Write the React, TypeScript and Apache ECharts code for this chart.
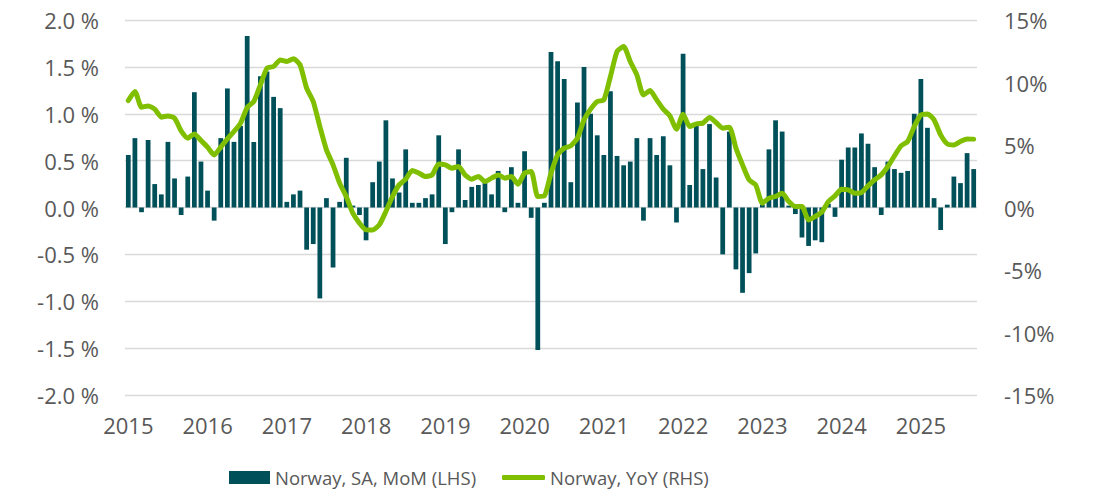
import React, { useEffect, useRef } from "react";
import * as echarts from "echarts";

const years = ["2015","2016","2017","2018","2019","2020","2021","2022","2023","2024","2025"];
const monthCodes = ["01","02","03","04","05","06","07","08","09","10","11","12"];
const lastMonthCount = 9; // 2025 up to September

const momValues = [
  0.56, 0.74, -0.05, 0.72, 0.25, 0.14, 0.70, 0.31, -0.08, 0.33, 1.23, 0.49,
  0.18, -0.14, 0.74, 1.27, 0.70, 0.87, 1.83, 0.70, 1.40, 1.45, 1.18, 1.06,
  0.06, 0.14, 0.18, -0.45, -0.39, -0.97, 0.10, -0.64, 0.06, 0.53, 0.02, -0.08,
  -0.35, 0.27, 0.49, 0.93, 0.31, 0.16, 0.62, 0.05, 0.05, 0.10, 0.14, 0.77,
  -0.39, -0.05, 0.62, 0.08, 0.22, 0.24, 0.26, 0.14, 0.39, -0.05, 0.43, 0.05,
  0.60, -0.11, -1.52, 0.05, 1.66, 1.56, 1.37, 0.27, 1.12, 1.50, 1.00, 0.77,
  0.56, 1.24, 0.55, 0.45, 0.49, 0.74, -0.14, 0.74, 0.56, 0.76, 0.45, -0.16,
  1.64, 0.24, 0.87, 0.41, 0.89, 0.32, -0.50, 0.81, -0.66, -0.91, -0.70, -0.49,
  0.03, 0.62, 0.93, 0.81, 0.02, -0.07, -0.32, -0.41, -0.35, -0.37, 0.04, -0.10,
  0.51, 0.64, 0.64, 0.79, 0.68, 0.43, -0.08, 0.49, 0.41, 0.37, 0.39, 1.00,
  1.37, 0.85, 0.10, -0.24, 0.03, 0.33, 0.26, 0.58, 0.41,
];

const yoyValues = [
  8.56, 9.28, 8.03, 8.13, 7.87, 7.23, 7.33, 7.15, 6.13, 5.55, 5.89, 5.36,
  4.83, 4.21, 4.83, 5.49, 6.08, 6.75, 8.0, 8.48, 9.81, 11.15, 11.28, 11.81,
  11.68, 11.9, 11.41, 9.55, 8.48, 6.48, 4.61, 3.41, 1.95, 0.88, -0.45, -1.25,
  -1.79, -1.8, -1.39, -0.32, 0.88, 1.81, 2.27, 2.96, 2.75, 2.48, 2.61, 3.49,
  3.41, 3.15, 3.28, 2.6, 2.27, 2.48, 2.08, 2.35, 2.61, 2.35, 2.48, 1.87,
  2.75, 2.88, 0.88, 0.93, 2.75, 4.21, 4.75, 4.93, 5.55, 7.01, 7.87, 8.48,
  8.61, 10.48, 12.48, 12.88, 11.68, 10.61, 9.0, 9.36, 8.61, 7.87, 7.33, 6.27,
  7.47, 6.48, 6.69, 6.75, 7.2, 6.8, 6.35, 6.43, 4.75, 3.41, 2.21, 1.81,
  0.35, 0.75, 0.88, 1.15, 0.48, 0.08, 0.08, -0.99, -0.72, -0.37, 0.48, 0.93,
  1.47, 1.41, 1.15, 1.2, 1.73, 2.21, 2.61, 3.28, 4.13, 4.93, 5.28, 6.48,
  7.41, 7.49, 7.01, 5.81, 5.09, 5.01, 5.28, 5.49, 5.47,
];

const leftTicks = { min: -2, max: 2, interval: 0.5 };
const rightTicks = { min: -15, max: 15, interval: 5 };
const barName = "Norway, SA, MoM (LHS)";
const lineName = "Norway, YoY (RHS)";

const categories: string[] = [];
years.forEach((y, i) => {
  const n = i === years.length - 1 ? lastMonthCount : 12;
  for (let m = 0; m < n; m++) categories.push(y + "-" + monthCodes[m]);
});

const FONT = "'Open Sans', 'Noto Sans', sans-serif";
const TEXT = "#595959";

export default function App() {
  const ref = useRef<HTMLDivElement>(null);
  useEffect(() => {
    if (!ref.current) return;
    const chart = echarts.init(ref.current, undefined, { renderer: "svg" });
    chart.setOption({
      animation: false,
      backgroundColor: "#ffffff",
      textStyle: { fontFamily: FONT },
      grid: { left: 125, right: 116, top: 20, bottom: 97, containLabel: false },
      legend: [
        {
          data: [{ name: barName, icon: "rect" }],
          left: 224,
          top: 463,
          itemWidth: 41,
          itemHeight: 13,
          textStyle: { color: TEXT, fontSize: 18.5, fontFamily: FONT },
        },
        {
          data: [{ name: lineName, icon: "roundRect" }],
          left: 497,
          top: 463,
          itemWidth: 43,
          itemHeight: 5,
          textStyle: { color: TEXT, fontSize: 18.5, fontFamily: FONT },
        },
      ],
      xAxis: {
        type: "category",
        data: categories,
        boundaryGap: true,
        axisLine: { show: false },
        axisTick: { show: false },
        axisLabel: {
          interval: 11,
          color: TEXT,
          fontSize: 22,
          fontFamily: FONT,
          margin: 19,
          formatter: (v: string) => v.slice(0, 4),
        },
        splitLine: { show: false },
      },
      yAxis: [
        {
          type: "value",
          min: leftTicks.min,
          max: leftTicks.max,
          interval: leftTicks.interval,
          axisLine: { show: false },
          axisTick: { show: false },
          axisLabel: {
            color: TEXT,
            fontSize: 22,
            fontFamily: FONT,
            margin: 26,
            formatter: (v: number) => v.toFixed(1) + " %",
          },
          splitLine: { lineStyle: { color: "#d9d9d9", width: 1.3 } },
        },
        {
          type: "value",
          min: rightTicks.min,
          max: rightTicks.max,
          interval: rightTicks.interval,
          position: "right",
          axisLine: { show: false },
          axisTick: { show: false },
          axisLabel: {
            color: TEXT,
            fontSize: 22,
            fontFamily: FONT,
            margin: 27,
            formatter: (v: number) => v + "%",
          },
          splitLine: { show: false },
        },
      ],
      series: [
        {
          name: barName,
          type: "bar",
          yAxisIndex: 0,
          data: momValues,
          barWidth: "72%",
          itemStyle: { color: "#00505a" },
        },
        {
          name: lineName,
          type: "line",
          yAxisIndex: 1,
          data: yoyValues,
          showSymbol: false,
          symbol: "none",
          smooth: 0.2,
          lineStyle: { color: "#7fbf00", width: 5, cap: "round", join: "round" },
          itemStyle: { color: "#7fbf00" },
        },
      ],
    });
    return () => chart.dispose();
  }, []);
  return (
    <div
      ref={ref}
      style={{ position: "absolute", left: 0, top: 0, width: 1093, height: 492 }}
    />
  );
}
